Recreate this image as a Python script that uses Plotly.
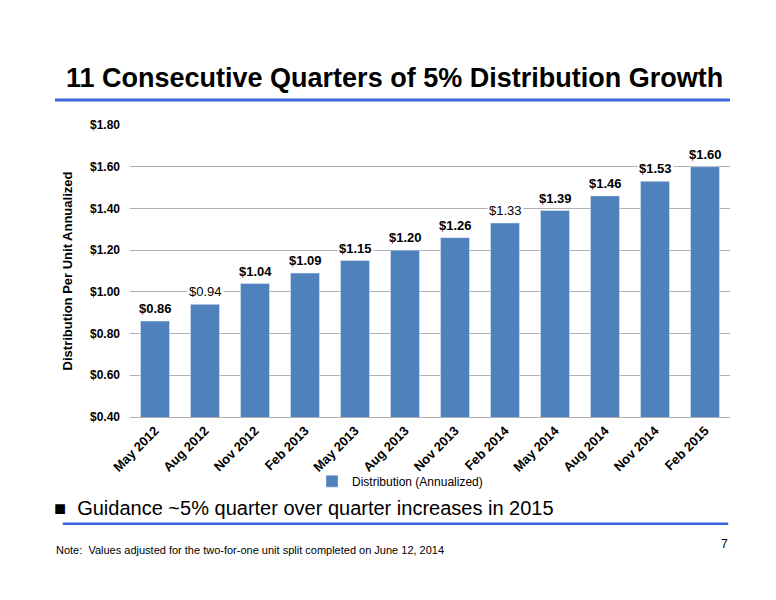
import plotly.graph_objects as go

quarters = ["May 2012", "Aug 2012", "Nov 2012", "Feb 2013", "May 2013", "Aug 2013",
            "Nov 2013", "Feb 2014", "May 2014", "Aug 2014", "Nov 2014", "Feb 2015"]
distribution = [0.86, 0.94, 1.04, 1.09, 1.15, 1.20, 1.26, 1.33, 1.39, 1.46, 1.53, 1.60]
# a couple of labels in the original are rendered in regular weight
bold_label = [True, False, True, True, True, True, True, False, True, True, True, True]
y_ticks = [0.4, 0.6, 0.8, 1.0, 1.2, 1.4, 1.6, 1.8]

BLUE = "#4f81bd"
FONT = "Liberation Sans, Arial, sans-serif"

fig = go.Figure()
fig.add_trace(go.Bar(
    x=quarters, y=distribution, name="Distribution (Annualized)",
    marker_color=BLUE,
))

# value labels sit on white boxes so they break the gridlines like the original
for q, v, b in zip(quarters, distribution, bold_label):
    txt = f"${v:.2f}"
    fig.add_annotation(
        x=q, y=v, text=f"<b>{txt}</b>" if b else txt, showarrow=False,
        yanchor="bottom", yshift=3, bgcolor="white", borderpad=1,
        font=dict(family=FONT, size=13, color="black"),
    )

fig.update_layout(
    width=776, height=600,
    paper_bgcolor="white", plot_bgcolor="white",
    margin=dict(l=122, r=54, t=117, b=191),
    font=dict(family=FONT, color="black"),
    bargap=0.42,
    showlegend=True,
    legend=dict(orientation="h", x=0.45, xanchor="center", y=-0.17, yanchor="top",
                bgcolor="rgba(0,0,0,0)", font=dict(size=12)),
    yaxis=dict(
        range=[0.4, 1.8], tickvals=y_ticks,
        ticktext=[f"<b>${t:.2f}</b>" for t in y_ticks],
        tickfont=dict(size=12), showgrid=True, gridcolor="#b0b0b0", gridwidth=1,
        zeroline=False, showline=False, ticks="", ticklabelstandoff=9,
        title=dict(text="<b>Distribution Per Unit Annualized</b>", font=dict(size=13),
                   standoff=14),
    ),
    xaxis=dict(
        tickangle=-45, tickfont=dict(size=13),
        ticktext=[f"<b>{q}</b>" for q in quarters], tickvals=quarters,
        showline=True, linecolor="#b0b0b0", linewidth=1, ticks="",
    ),
)

# slide title and decoration
fig.add_annotation(
    xref="paper", yref="paper", x=0.44, y=1.0, yshift=47,
    text="<b>11 Consecutive Quarters of 5% Distribution Growth</b>", showarrow=False,
    font=dict(family=FONT, size=27, color="black"), xanchor="center", yanchor="middle",
)
fig.add_shape(type="line", xref="paper", yref="paper", x0=-0.125, x1=1.0,
              y0=1.086, y1=1.086, line=dict(color="#3a66e0", width=3))

fig.add_annotation(
    xref="paper", yref="paper", x=-0.13, y=-0.31, xanchor="left", yanchor="middle",
    text="■  Guidance ~5% quarter over quarter increases in 2015", showarrow=False,
    font=dict(family=FONT, size=20, color="black"),
)
fig.add_shape(type="line", xref="paper", yref="paper", x0=-0.112, x1=0.997,
              y0=-0.366, y1=-0.366, line=dict(color="#3a66e0", width=2.5))
fig.add_annotation(
    xref="paper", yref="paper", x=-0.127, y=-0.455, xanchor="left", yanchor="middle",
    text="Note:  Values adjusted for the two-for-one unit split completed on June 12, 2014",
    showarrow=False, font=dict(family=FONT, size=11, color="black"),
)
fig.add_annotation(
    xref="paper", yref="paper", x=0.99, y=-0.435, xanchor="center", yanchor="middle",
    text="7", showarrow=False, font=dict(family=FONT, size=12, color="black"),
)

fig.write_html("out.html")
